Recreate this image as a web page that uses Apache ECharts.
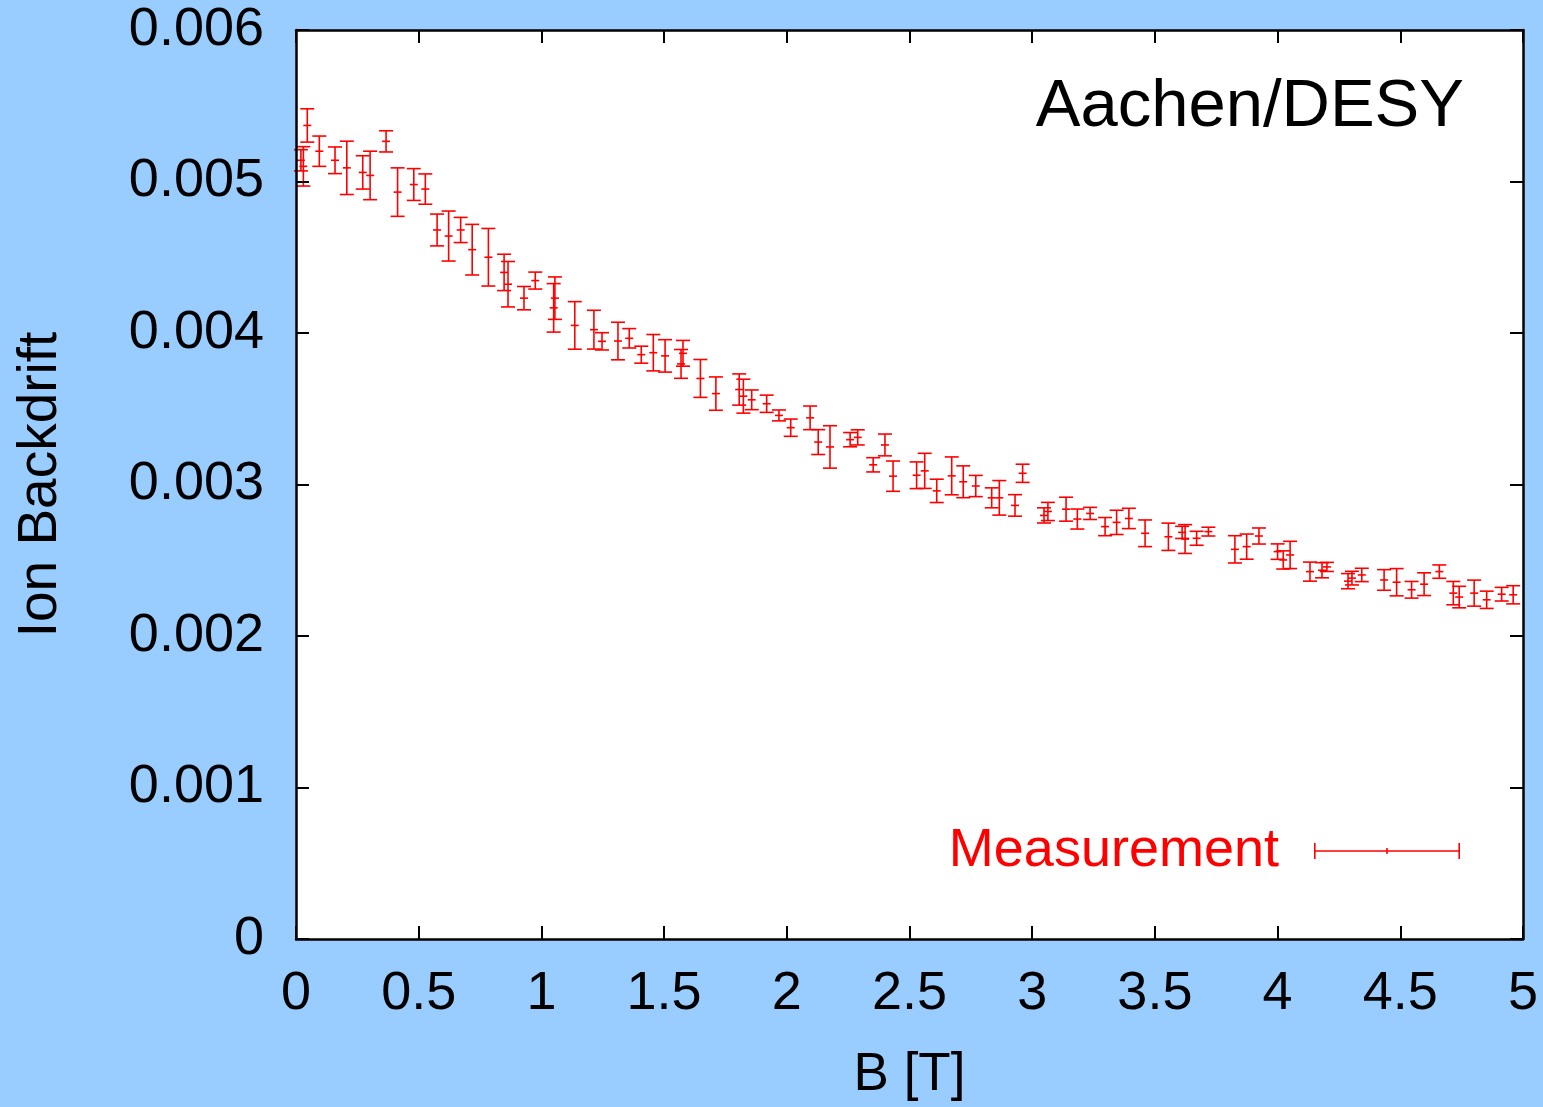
<!DOCTYPE html>
<html>
<head>
<meta charset="utf-8">
<script src="https://cdn.jsdelivr.net/npm/echarts@6/dist/echarts.min.js"></script>
<style>
  html, body { margin: 0; padding: 0; background: #99ccff; }
</style>
</head>
<body>
<div id="ibfChart" style="width: 1543px;height:1107px;"></div>
<script>
// magnetic field B [T]
const bField = [
  0.02, 0.03, 0.046, 0.095, 0.159, 0.207, 0.272, 0.302, 0.367, 0.414,
  0.48, 0.527, 0.575, 0.622, 0.671, 0.718, 0.784, 0.848, 0.864, 0.929,
  0.975, 1.055, 1.05, 1.136, 1.214, 1.247, 1.312, 1.358, 1.407, 1.456,
  1.504, 1.569, 1.577, 1.648, 1.711, 1.806, 1.823, 1.857, 1.918, 1.968,
  2.016, 2.095, 2.128, 2.176, 2.258, 2.289, 2.352, 2.4, 2.433, 2.529,
  2.562, 2.611, 2.672, 2.719, 2.77, 2.835, 2.866, 2.93, 2.961, 3.048,
  3.064, 3.138, 3.184, 3.236, 3.297, 3.344, 3.394, 3.46, 3.555, 3.611,
  3.623, 3.67, 3.718, 3.826, 3.874, 3.924, 4.0, 4.023, 4.051, 4.132,
  4.181, 4.201, 4.287, 4.303, 4.343, 4.434, 4.485, 4.546, 4.597, 4.659,
  4.716, 4.74, 4.801, 4.852, 4.913, 4.96
];
// ion backdrift
const backdrift = [
  0.00514, 0.0051, 0.00537, 0.0052, 0.00514, 0.00509, 0.00506, 0.00504, 0.005265, 0.00493,
  0.00498, 0.00495, 0.00468, 0.00464, 0.00468, 0.00455, 0.0045, 0.0044, 0.004322, 0.00423,
  0.004346, 0.00423, 0.004166, 0.00405, 0.004022, 0.003945, 0.003947, 0.003965, 0.003857, 0.00387,
  0.003849, 0.003796, 0.003866, 0.0037, 0.0036, 0.003627, 0.003583, 0.003559, 0.003533, 0.003456,
  0.003375, 0.00344, 0.00328, 0.003248, 0.003296, 0.003311, 0.00313, 0.003261, 0.003055, 0.003061,
  0.00309, 0.002958, 0.003057, 0.003018, 0.00299, 0.002912, 0.002912, 0.002862, 0.003074, 0.002796,
  0.002822, 0.002837, 0.002772, 0.002809, 0.002722, 0.00275, 0.002776, 0.002678, 0.002655, 0.002684,
  0.00264, 0.002645, 0.002689, 0.002572, 0.00259, 0.00266, 0.002557, 0.002502, 0.002535, 0.002425,
  0.002434, 0.002456, 0.002362, 0.002382, 0.002403, 0.00237, 0.002355, 0.002305, 0.002342, 0.002425,
  0.002283, 0.002257, 0.002283, 0.002239, 0.002276, 0.002272
];
// symmetric errors
const bdErr = [
  0.00007, 0.00013, 0.00011, 0.0001, 0.000088, 0.000176, 0.00011, 0.00016, 0.00007, 0.00016,
  0.000105, 0.0001, 0.000105, 0.000165, 0.000083, 0.000167, 0.00019, 0.00012, 0.00015, 0.000077,
  0.000056, 0.00014, 0.00016, 0.000157, 0.000128, 0.000057, 0.000124, 0.000064, 0.000056, 0.00012,
  0.000107, 0.000095, 0.000085, 0.000125, 0.00011, 0.000103, 0.000112, 0.000065, 0.000057, 0.000036,
  0.000057, 0.000078, 0.000082, 0.00014, 0.000047, 0.00005, 0.000047, 0.000072, 0.0001, 0.000088,
  0.000116, 0.000077, 0.000125, 0.000105, 0.00007, 0.000066, 0.000114, 0.000071, 0.00006, 0.00005,
  0.00006, 0.000079, 0.000066, 0.00004, 0.00006, 0.00008, 0.000067, 0.000088, 0.00009, 0.00004,
  0.000095, 0.000046, 0.000029, 0.00009, 0.000083, 0.000053, 0.000051, 0.00006, 0.00009, 0.000063,
  0.00005, 0.00003, 0.00005, 0.000045, 0.000044, 0.000068, 0.00009, 0.000055, 0.000075, 0.000044,
  0.000077, 0.000071, 0.000086, 0.000057, 0.000045, 0.00006
];

const font = "'Liberation Sans', Arial, sans-serif";
const red = '#ff0000';

function renderErrorBar(params, api) {
  const x = api.value(0);
  const y = api.value(1);
  const e = api.value(2);
  const lo = api.coord([x, y - e]);
  const hi = api.coord([x, y + e]);
  const c = api.coord([x, y]);
  const cap = 7;
  const mark = 4;
  const style = { stroke: red, lineWidth: 1.6 };
  return {
    type: 'group',
    children: [
      { type: 'line', shape: { x1: lo[0], y1: lo[1], x2: hi[0], y2: hi[1] }, style },
      { type: 'line', shape: { x1: lo[0] - cap, y1: lo[1], x2: lo[0] + cap, y2: lo[1] }, style },
      { type: 'line', shape: { x1: hi[0] - cap, y1: hi[1], x2: hi[0] + cap, y2: hi[1] }, style },
      { type: 'line', shape: { x1: c[0] - mark, y1: c[1], x2: c[0] + mark, y2: c[1] }, style },
    ],
  };
}

// frame + inward ticks on all four sides
function frameAxis(extra) {
  return Object.assign({
    type: 'value',
    z: 10,
    axisLine: { show: true, onZero: false, lineStyle: { color: '#000', width: 2.5 } },
    axisTick: { show: true, inside: true, length: 13, lineStyle: { color: '#000', width: 2 } },
    splitLine: { show: false },
  }, extra);
}

const option = {
  backgroundColor: '#99ccff',
  animation: false,
  textStyle: { fontFamily: font },
  title: {
    text: 'Aachen/DESY',
    right: 79,
    top: 74,
    padding: 0,
    textStyle: { fontFamily: font, fontSize: 67, fontWeight: 'normal', color: '#000' },
  },
  legend: {
    data: [{
      name: 'Measurement',
      icon: 'path://M0,0h1.6v16h-1.6z M0,7.2h146v1.6h-146z M144.4,0h1.6v16h-1.6z M72.2,5h1.6v6h-1.6z',
    }],
    right: 83,
    top: 824,
    align: 'right',
    itemWidth: 146,
    itemHeight: 16,
    selectedMode: false,
    padding: 0,
    textStyle: { fontFamily: font, fontSize: 54, color: red, padding: [0, 30, 0, 0] },
  },
  grid: {
    left: 296,
    right: 20,
    top: 30,
    bottom: 165,
    show: true,
    backgroundColor: '#fff',
    borderWidth: 0,
  },
  xAxis: [
    frameAxis({
      position: 'bottom',
      min: 0,
      max: 5,
      interval: 0.5,
      name: 'B [T]',
      nameLocation: 'middle',
      nameGap: 110,
      nameTextStyle: { fontFamily: font, fontSize: 53, color: '#000' },
      axisLabel: { fontFamily: font, fontSize: 54, color: '#000', margin: 28 },
    }),
    frameAxis({
      position: 'top',
      min: 0,
      max: 5,
      interval: 0.5,
      axisLabel: { show: false },
    }),
  ],
  yAxis: [
    frameAxis({
      position: 'left',
      min: 0,
      max: 0.006,
      interval: 0.001,
      name: 'Ion Backdrift',
      nameLocation: 'middle',
      nameGap: 228,
      nameTextStyle: { fontFamily: font, fontSize: 55, color: '#000' },
      axisLabel: {
        fontFamily: font, fontSize: 54, color: '#000', margin: 32,
        formatter: v => (v === 0 ? '0' : v.toFixed(3)),
      },
    }),
    frameAxis({
      position: 'right',
      min: 0,
      max: 0.006,
      interval: 0.001,
      axisLabel: { show: false },
    }),
  ],
  series: [
    {
      name: 'Measurement',
      type: 'custom',
      renderItem: renderErrorBar,
      itemStyle: { color: red },
      encode: { x: 0, y: 1 },
      data: bField.map((b, i) => [b, backdrift[i], bdErr[i]]),
      z: 3,
    },
  ],
};

const myChart = echarts.init(document.getElementById('ibfChart'));
myChart.setOption(option);
</script>
</body>
</html>
